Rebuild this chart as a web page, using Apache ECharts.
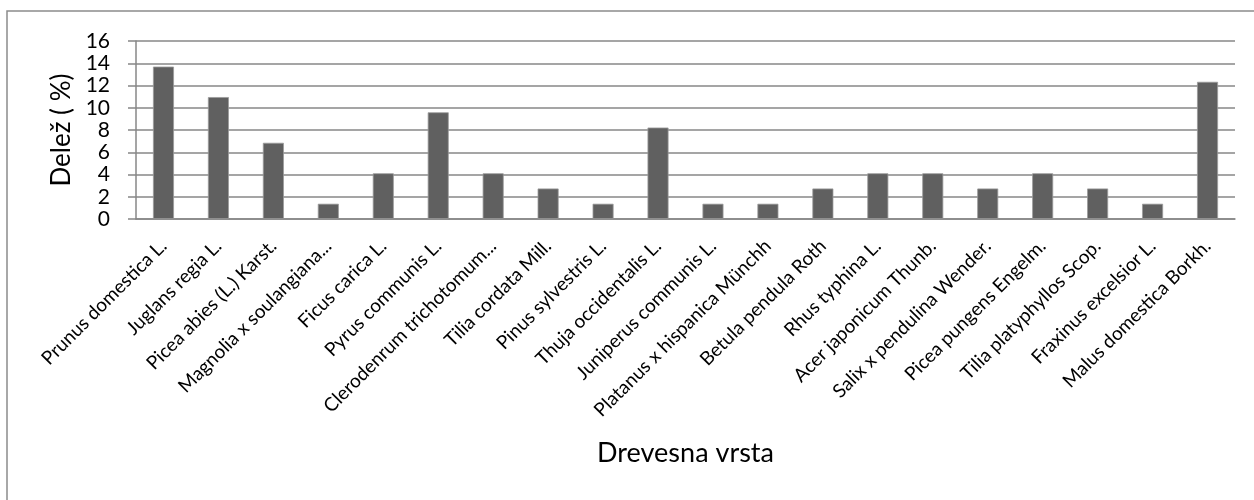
<!DOCTYPE html>
<html>
<head>
<meta charset="utf-8">
<script src="https://cdn.jsdelivr.net/npm/echarts@6/dist/echarts.min.js"></script>
<style>
html,body{margin:0;padding:0;background:#fff;}
#chart{width:1254px;height:500px;}
</style>
</head>
<body>
<div id="chart"></div>
<script>
const categories = [
  "Prunus domestica L.", "Juglans regia L.", "Picea abies (L.) Karst.", "Magnolia x soulangiana...",
  "Ficus carica L.", "Pyrus communis L.", "Clerodenrum trichotomum...", "Tilia cordata Mill.",
  "Pinus sylvestris L.", "Thuja occidentalis L.", "Juniperus communis L.", "Platanus x hispanica Münchh",
  "Betula pendula Roth", "Rhus typhina L.", "Acer japonicum Thunb.", "Salix x pendulina Wender.",
  "Picea pungens Engelm.", "Tilia platyphyllos Scop.", "Fraxinus excelsior L.", "Malus domestica Borkh."
];
const shares = [13.70, 10.96, 6.85, 1.37, 4.11, 9.59, 4.11, 2.74, 1.37, 8.22,
                1.37, 1.37, 2.74, 4.11, 4.11, 2.74, 4.11, 2.74, 1.37, 12.33];
const yTicks = { min: 0, max: 16, interval: 2 };
const xName = "Drevesna vrsta";
const yName = "Delež ( %)";

const FONT = "Lato";
const GRID = "#878787";
const chart = echarts.init(document.getElementById('chart'), null, {renderer: 'canvas'});
chart.setOption({
  backgroundColor: '#ffffff',
  animation: false,
  textStyle: { fontFamily: FONT, color: '#000' },
  graphic: [{
    type: 'rect', silent: true,
    shape: { x: 7, y: 11, width: 1400, height: 700 },
    style: { fill: 'none', stroke: '#8c8c8c', lineWidth: 1.5 }
  }],
  grid: { left: 136, right: 19, top: 41, bottom: 281, containLabel: false },
  xAxis: {
    type: 'category',
    data: categories,
    name: xName,
    nameLocation: 'middle',
    nameGap: 221,
    nameMoveOverlap: false,
    nameTextStyle: { fontFamily: FONT, fontSize: 27, color: '#000' },
    axisLine: { show: true, lineStyle: { color: GRID, width: 1.5 } },
    axisTick: { show: false },
    axisLabel: { interval: 0, rotate: 45, margin: 24, fontFamily: FONT, fontSize: 19, color: '#000' },
    splitLine: { show: false }
  },
  yAxis: {
    type: 'value',
    min: yTicks.min, max: yTicks.max, interval: yTicks.interval,
    name: yName,
    nameLocation: 'middle',
    nameGap: 60,
    nameRotate: 90,
    nameTextStyle: { fontFamily: FONT, fontSize: 26, color: '#000' },
    axisLine: { show: true, lineStyle: { color: GRID, width: 1.5 } },
    axisTick: { show: true, inside: false, length: 8, lineStyle: { color: GRID, width: 1.5 } },
    axisLabel: { margin: 26, fontFamily: FONT, fontSize: 21, color: '#000' },
    splitLine: { show: true, lineStyle: { color: GRID, width: 1.5 } }
  },
  series: [{
    type: 'bar',
    data: shares,
    barWidth: 21,
    itemStyle: { color: '#606060', borderColor: '#9a9a9a', borderWidth: 0.8 }
  }]
});
</script>
</body>
</html>
